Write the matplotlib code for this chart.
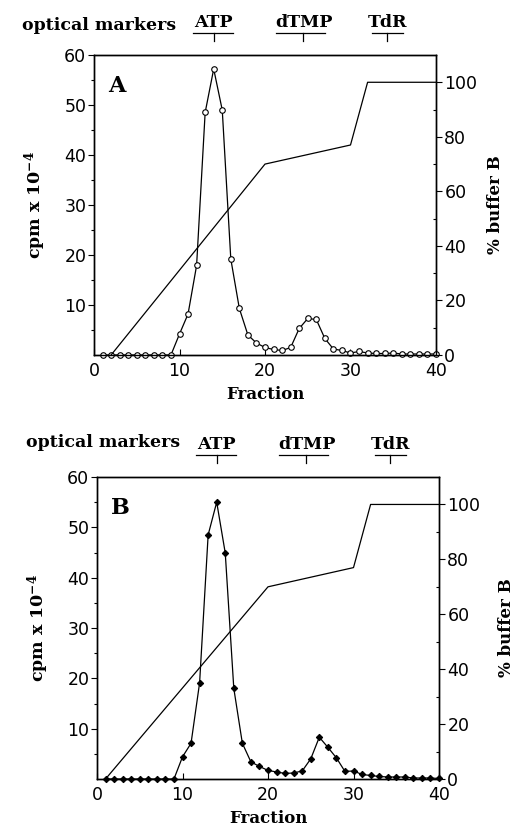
import numpy as np
import matplotlib
matplotlib.use("Agg")
import matplotlib.pyplot as plt
import matplotlib.transforms as mtransforms
from matplotlib.ticker import MultipleLocator, FixedLocator

plt.rcParams['mathtext.fontset'] = 'dejavuserif'

# Données
fractions = list(range(1, 41))

cpm_A = [0, 0, 0, 0, 0, 0, 0, 0, 0, 4.2,
         8.2, 17.9, 48.5, 57.2, 49.0, 19.2, 9.3, 4.0, 2.4, 1.5,
         1.1, 0.9, 1.5, 5.3, 7.3, 7.1, 3.3, 1.2, 0.9, 0.4,
         0.7, 0.4, 0.3, 0.3, 0.4, 0.2, 0.2, 0.2, 0.2, 0.2]

cpm_B = [0, 0, 0, 0, 0, 0, 0, 0, 0, 4.4,
         7.1, 19.1, 48.5, 55.0, 44.9, 18.0, 7.1, 3.4, 2.5, 1.7,
         1.4, 1.1, 1.2, 1.6, 4.0, 8.3, 6.3, 4.2, 1.5, 1.6,
         0.9, 0.7, 0.5, 0.4, 0.4, 0.4, 0.2, 0.2, 0.2, 0.1]

# gradient (% buffer B)
grad_x_A = [2, 20, 30, 32, 40]
grad_y_A = [0, 70, 77, 100, 100]
grad_x_B = [1, 20, 30, 32, 40]
grad_y_B = [0, 70, 77, 100, 100]

# marqueurs optiques : nom, centre, début, fin (en fractions)
marker_names = ['ATP', 'dTMP', 'TdR']
marker_centers = [14, 24.5, 34.3]
marker_starts = [11.6, 21.3, 32.5]
marker_ends = [16.3, 27.0, 36.1]

serif_bold = dict(family='DejaVu Serif', fontweight='bold')


def panel(fig, rect, cpm, gx, gy, letter, marker, mfc, ms, pad_droite):
    ax = fig.add_axes(rect)
    ax.plot(fractions, cpm, color='black', lw=0.9, marker=marker,
            ms=ms, mfc=mfc, mec='black', mew=0.8, clip_on=False, zorder=3)
    ax.set_xlim(0, 40)
    ax.set_ylim(0, 60)
    ax.xaxis.set_major_locator(MultipleLocator(10))
    ax.yaxis.set_major_locator(FixedLocator([10, 20, 30, 40, 50, 60]))
    ax.yaxis.set_minor_locator(FixedLocator([5, 15, 25, 35, 45, 55]))
    ax.tick_params(axis='x', direction='in', length=4, width=0.8,
                   labelsize=12.5, pad=5)
    ax.tick_params(axis='y', which='major', direction='out', length=4,
                   width=0.8, labelsize=12.5, pad=1.5)
    ax.tick_params(axis='y', which='minor', direction='out', length=2,
                   width=0.8)
    ax.set_xlabel('Fraction', fontsize=12, labelpad=4, **serif_bold)
    ax.set_ylabel(r'cpm x 10$^{\mathbf{-4}}$', fontsize=12.5, labelpad=12,
                  **serif_bold)
    for sp in ax.spines.values():
        sp.set_linewidth(1.0)

    ax.text(0.04, 0.935, letter, transform=ax.transAxes, fontsize=16,
            ha='left', va='top', **serif_bold)

    ax2 = ax.twinx()
    ax2.plot(gx, gy, color='black', lw=0.9)
    ax2.set_ylim(0, 110)
    ax2.yaxis.set_major_locator(MultipleLocator(20))
    ax2.yaxis.set_minor_locator(FixedLocator([10, 30, 50, 70, 90]))
    ax2.tick_params(axis='y', which='major', direction='out', length=4,
                    width=0.8, labelsize=12.5, pad=2)
    ax2.tick_params(axis='y', which='minor', direction='in', length=2,
                    width=0.8)
    ax2.set_ylabel('% buffer B', fontsize=12, labelpad=pad_droite, **serif_bold)
    for sp in ax2.spines.values():
        sp.set_linewidth(1.0)

    # crochets des marqueurs optiques
    trans = mtransforms.blended_transform_factory(ax.transData, ax.transAxes)
    for nom, c, s, e in zip(marker_names, marker_centers, marker_starts, marker_ends):
        ax.plot([s, e], [1.073, 1.073], color='black', lw=0.9,
                transform=trans, clip_on=False)
        ax.plot([c, c], [1.073, 1.047], color='black', lw=0.9,
                transform=trans, clip_on=False)
        ax.text(c, 1.08, nom, transform=trans, ha='center', va='bottom',
                fontsize=12.5, **serif_bold)
    return ax


fig = plt.figure(figsize=(5.15, 8.3), dpi=100)

ax_a = panel(fig, [94/515, 1-355/830, 342/515, 300/830],
             cpm_A, grad_x_A, grad_y_A, 'A', 'o', 'white', 4, 7)
ax_b = panel(fig, [97/515, 1-779/830, 342/515, 302/830],
             cpm_B, grad_x_B, grad_y_B, 'B', 'D', 'black', 3.2, 13)

fig.text(22/515, 1-25/830, 'optical markers', ha='left', va='center',
         fontsize=12.5, **serif_bold)
fig.text(26/515, 1-442/830, 'optical markers', ha='left', va='center',
         fontsize=12.5, **serif_bold)

fig.savefig('out.png', dpi=100)
